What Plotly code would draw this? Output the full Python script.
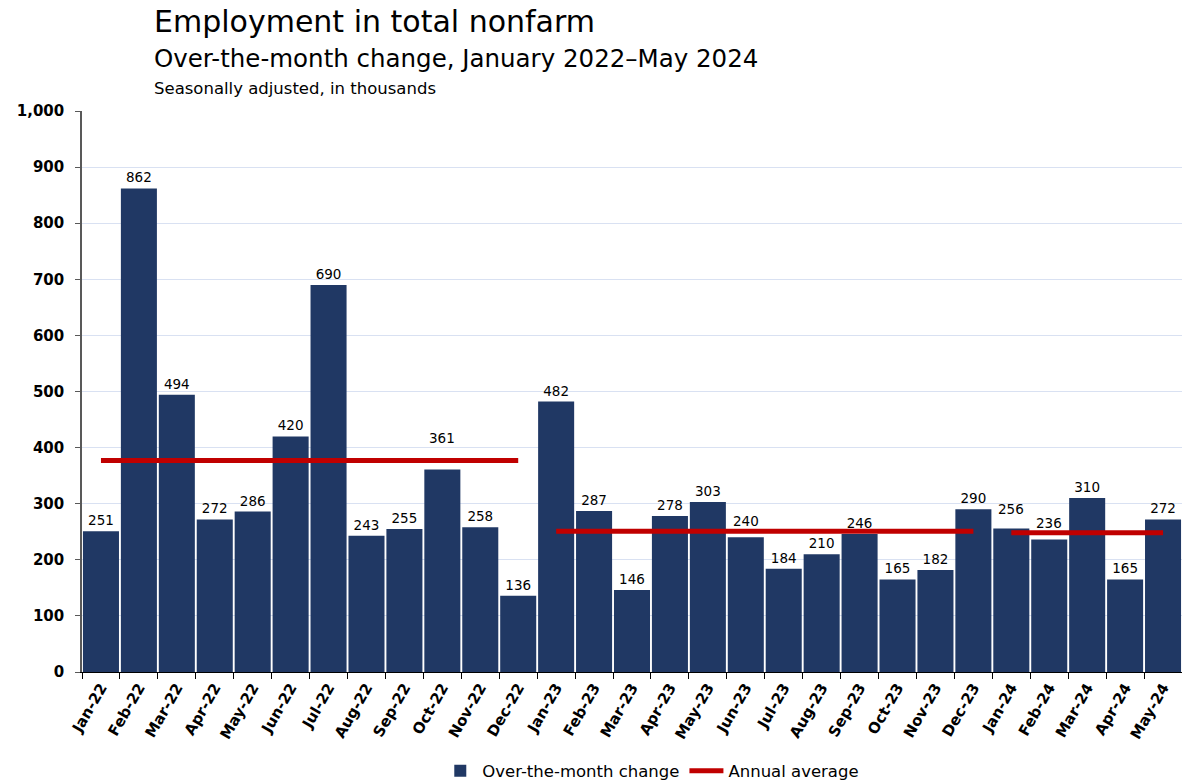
import plotly.graph_objects as go

months = ["Jan-22","Feb-22","Mar-22","Apr-22","May-22","Jun-22","Jul-22","Aug-22","Sep-22","Oct-22","Nov-22","Dec-22",
          "Jan-23","Feb-23","Mar-23","Apr-23","May-23","Jun-23","Jul-23","Aug-23","Sep-23","Oct-23","Nov-23","Dec-23",
          "Jan-24","Feb-24","Mar-24","Apr-24","May-24"]
changes = [251, 862, 494, 272, 286, 420, 690, 243, 255, 361, 258, 136,
           482, 287, 146, 278, 303, 240, 184, 210, 246, 165, 182, 290,
           256, 236, 310, 165, 272]
avg_start = ["Jan-22", "Jan-23", "Jan-24"]
avg_end = ["Dec-22", "Dec-23", "May-24"]
avg_values = [377, 251, 248]
y_ticks = [0, 100, 200, 300, 400, 500, 600, 700, 800, 900, 1000]
y_ticklabels = ["0", "100", "200", "300", "400", "500", "600", "700", "800", "900", "1,000"]
# bar labels nudged upward (pixels above bar top) to clear the annual-average line
raised_labels = {"Oct-22": 31, "Jun-23": 16, "Jan-24": 19, "Feb-24": 17}

FONT = "DejaVu Sans"
BAR = "#203864"
RED = "#c00000"
LABEL_FONT = dict(family=FONT, size=13.5, color="#000000")

bar_text = ["" if m in raised_labels else str(v) for m, v in zip(months, changes)]

fig = go.Figure()
fig.add_trace(go.Bar(
    x=months, y=changes, name="Over-the-month change",
    marker=dict(color=BAR, line=dict(width=0)),
    text=bar_text, textposition="outside",
    textfont=LABEL_FONT,
    cliponaxis=False,
))
for i, (s, e, v) in enumerate(zip(avg_start, avg_end, avg_values)):
    fig.add_trace(go.Scatter(
        x=[s, e], y=[v, v], mode="lines", name="Annual average",
        line=dict(color=RED, width=5),
        legendgroup="avg", showlegend=(i == 0),
    ))

annotations = [
    dict(text="Employment in total nonfarm", x=0.064, y=1 + (111 - 22) / 561, xref="paper", yref="paper",
         xanchor="left", yanchor="middle", showarrow=False, font=dict(family=FONT, size=30)),
    dict(text="Over-the-month change, January 2022\u2013May 2024", x=0.064, y=1 + (111 - 59) / 561,
         xref="paper", yref="paper",
         xanchor="left", yanchor="middle", showarrow=False, font=dict(family=FONT, size=24.5)),
    dict(text="Seasonally adjusted, in thousands", x=0.064, y=1 + (111 - 88) / 561, xref="paper", yref="paper",
         xanchor="left", yanchor="middle", showarrow=False, font=dict(family=FONT, size=16.5)),
]
for m, v in zip(months, changes):
    if m in raised_labels:
        annotations.append(dict(text=str(v), x=m, y=v, xref="x", yref="y", yshift=raised_labels[m],
                                xanchor="center", yanchor="middle", showarrow=False, font=LABEL_FONT))

fig.update_layout(
    width=1182, height=782,
    margin=dict(l=82, r=0, t=111, b=110),
    plot_bgcolor="white", paper_bgcolor="white",
    font=dict(family=FONT, color="#000000"),
    bargap=0.05,
    showlegend=True,
    legend=dict(orientation="h", xref="container", yref="container",
                x=0.551, xanchor="center", y=(782 - 771) / 782, yanchor="middle",
                font=dict(family=FONT, size=16.5), traceorder="normal", itemwidth=34),
    annotations=annotations,
)
fig.update_xaxes(
    type="category", categoryorder="array", categoryarray=months,
    tickangle=-60, tickfont=dict(family=FONT, size=15, color="#000000", weight="bold"),
    showline=True, linecolor="#000000", linewidth=1,
    ticks="outside", tickson="boundaries", ticklen=6, tickcolor="#000000",
    showgrid=False,
)
fig.update_yaxes(
    range=[0, 1000], tickvals=y_ticks, ticktext=y_ticklabels,
    tickfont=dict(family=FONT, size=15, color="#000000", weight="bold"),
    showgrid=True, gridcolor="#d9e1f2", gridwidth=1,
    showline=True, linecolor="#595959", linewidth=1.5,
    ticks="outside", ticklen=5, tickcolor="#595959", ticklabelstandoff=8,
    zeroline=False,
)
fig.write_html("out.html", config={"displayModeBar": False},
               post_script="document.body.style.margin='0px';document.documentElement.style.overflow='hidden';")
